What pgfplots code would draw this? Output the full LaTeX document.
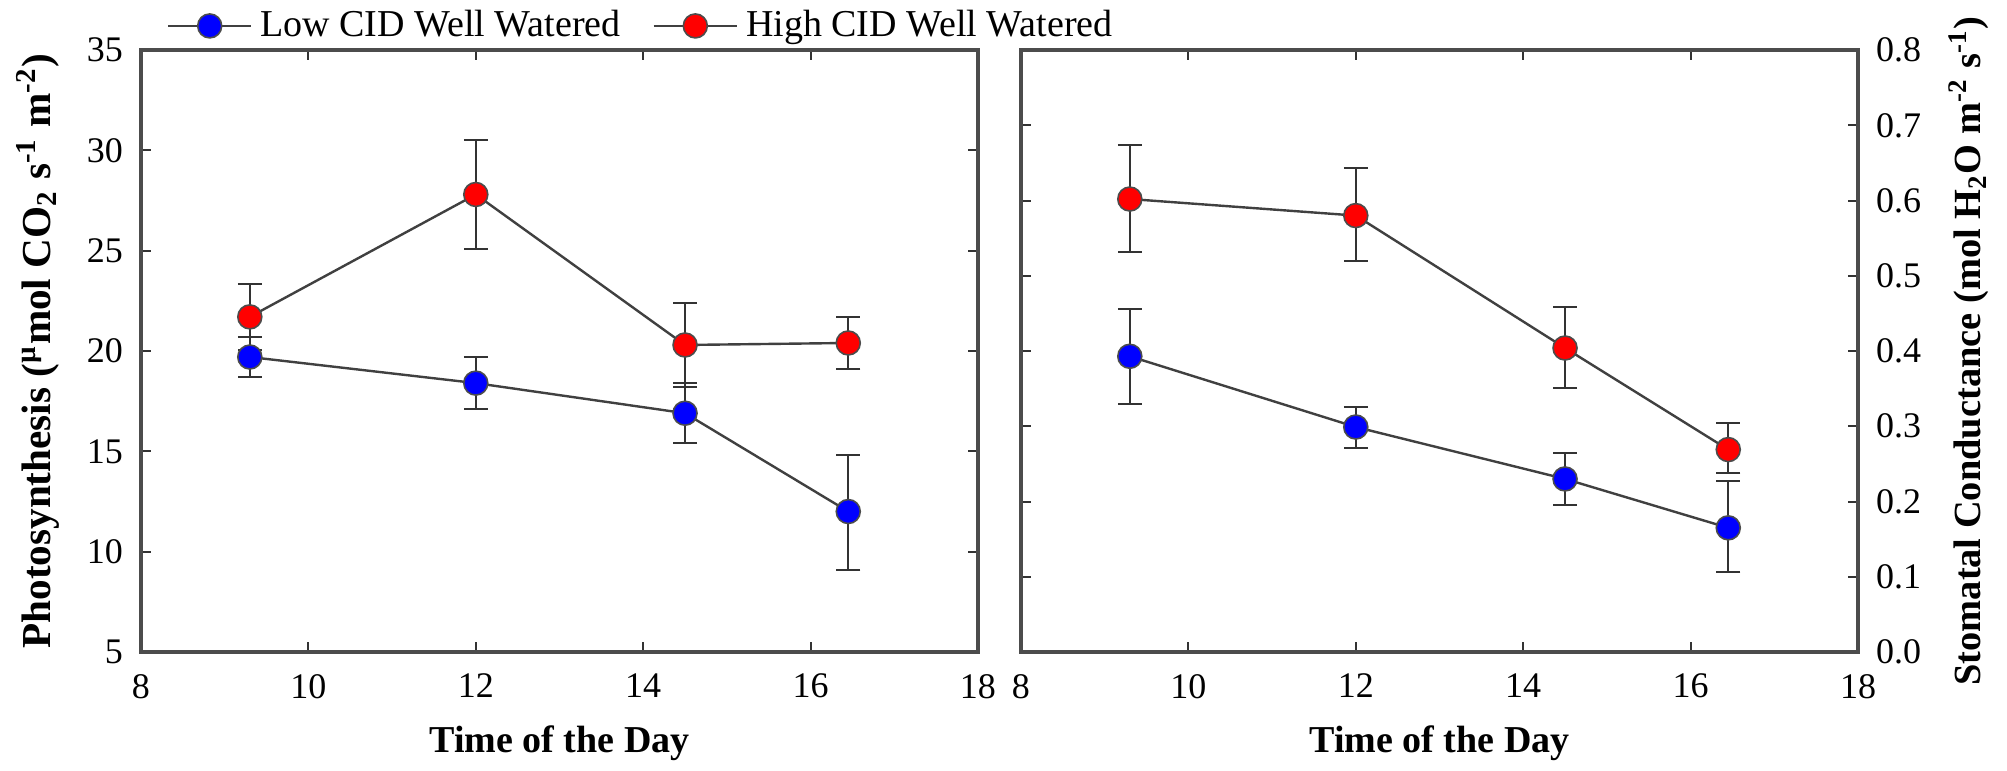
\documentclass[border=0pt]{standalone}
\usepackage{fontspec}
\setmainfont{Liberation Serif}
\usepackage{pgfplots}
\usepackage{pgfplotstable}
\pgfplotsset{compat=1.18}

% photosynthesis
\pgfplotstableread{
x y ep em
9.3 19.7 1.0 1.0
12.0 18.4 1.3 1.3
14.5 16.9 1.5 1.5
16.45 12.0 2.8 2.9
}\photoLow
\pgfplotstableread{
x y ep em
9.3 21.7 1.65 1.65
12.0 27.8 2.7 2.7
14.5 20.3 2.1 2.1
16.45 20.4 1.3 1.3
}\photoHigh
% stomatal conductance
\pgfplotstableread{
x y ep em
9.3 0.393 0.063 0.063
12.0 0.299 0.027 0.028
14.5 0.230 0.035 0.034
16.45 0.165 0.062 0.059
}\condLow
\pgfplotstableread{
x y ep em
9.3 0.602 0.072 0.070
12.0 0.580 0.063 0.061
14.5 0.404 0.055 0.053
16.45 0.269 0.035 0.031
}\condHigh

\pgfplotsset{
  panel/.style={
    scale only axis, width=209.25pt, height=150.5pt,
    xmin=8, xmax=18, xtick={8,10,...,18},
    tick align=inside, major tick length=2.5pt,
    axis line style={black!70, line width=0.8pt},
    tick style={black!80, line width=0.5pt},
    /pgf/number format/assume math mode=true,
    tick label style={font=\fontsize{9}{10}\selectfont},
    xticklabel style={yshift=-2pt},
    xlabel style={font=\bfseries\fontsize{9.5}{11}\selectfont},
    ylabel style={font=\bfseries\fontsize{10.3}{12}\selectfont},
    xlabel={Time of the Day},
  },
  ser/.style={black!75, line width=0.6pt, mark=*, mark size=3pt,
    mark options={fill=#1, draw=black!70, line width=0.4pt},
    error bars/.cd, y dir=both, y explicit,
    error bar style={black!80, line width=0.5pt},
    error mark options={rotate=90, mark size=3pt, black!80, line width=0.5pt}},
}

\begin{document}
\begin{tikzpicture}
\useasboundingbox (-35.25pt,-29.75pt) rectangle (466.5pt,163pt);
\begin{axis}[panel,
  ymin=5, ymax=35, ytick={5,10,...,35},
  yticklabel style={xshift=-1pt},
  ylabel={Photosynthesis (\textsuperscript{µ}mol CO\textsubscript{2} s\textsuperscript{-1} m\textsuperscript{-2})},
  legend style={at={(rel axis cs:0.03,1.04)}, anchor=west, draw=none, fill=none,
    font=\fontsize{9.5}{11}\selectfont, legend columns=2, inner sep=0pt,
    /tikz/every even column/.append style={column sep=6pt}},
  legend image code/.code={\draw[mark repeat=2, mark phase=2]
    plot coordinates {(0pt,0pt) (10.4pt,0pt) (20.8pt,0pt)};},
]
\addplot[ser=blue] table[x=x, y=y, y error plus=ep, y error minus=em] {\photoLow};
\addlegendentry{Low CID Well Watered}
\addplot[ser=red] table[x=x, y=y, y error plus=ep, y error minus=em] {\photoHigh};
\addlegendentry{High CID Well Watered}
\end{axis}
\begin{axis}[panel, at={(220pt,0pt)},
  ymin=0, ymax=0.8, ytick={0,0.1,...,0.8},
  yticklabel pos=right,
  yticklabel style={xshift=1pt, /pgf/number format/.cd, fixed, fixed zerofill, precision=1},
  ylabel style={font=\bfseries\fontsize{9.6}{11}\selectfont},
  ylabel={Stomatal Conductance (mol H\textsubscript{2}O m\textsuperscript{-2} s\textsuperscript{-1})},
]
\addplot[ser=blue] table[x=x, y=y, y error plus=ep, y error minus=em] {\condLow};
\addplot[ser=red] table[x=x, y=y, y error plus=ep, y error minus=em] {\condHigh};
\end{axis}
\end{tikzpicture}
\end{document}
